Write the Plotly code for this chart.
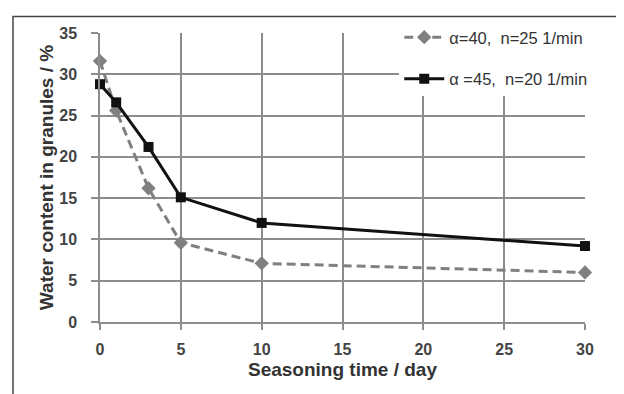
import plotly.graph_objects as go

days = [0, 1, 3, 5, 10, 30]
series1_name = "α=40,\u00a0\u00a0n=25\u00a01/min"
series1 = [31.6, 25.6, 16.2, 9.6, 7.1, 6.0]
series2_name = "α\u00a0=45,\u00a0\u00a0n=20\u00a01/min"
series2 = [28.8, 26.6, 21.2, 15.1, 12.0, 9.2]
x_ticks = [0, 5, 10, 15, 20, 25, 30]
y_ticks = [0, 5, 10, 15, 20, 25, 30, 35]

grid_col = "#8c8c8c"
fig = go.Figure()
fig.add_trace(go.Scatter(
    x=days, y=series1, name=series1_name, mode="lines+markers",
    line=dict(color="#808080", width=3, dash="9px,5px"),
    marker=dict(symbol="diamond", size=11, color="#808080"),
    legendgroup="a", cliponaxis=False))
fig.add_trace(go.Scatter(
    x=days, y=series2, name=series2_name, mode="lines+markers",
    line=dict(color="#111111", width=3),
    marker=dict(symbol="square", size=10, color="#111111"),
    legendgroup="b", cliponaxis=False))

fig.update_layout(
    width=624, height=394,
    margin=dict(l=92, r=47, t=16, b=80),
    paper_bgcolor="white", plot_bgcolor="white",
    font=dict(family="Liberation Sans, Arial, sans-serif", color="#333333"),
    showlegend=True,
    legend=dict(x=0.617, y=1.045, xanchor="left", yanchor="top",
                bgcolor="white", font=dict(size=16.5, color="#333333"),
                tracegroupgap=17, itemwidth=40),
    shapes=[dict(type="rect", xref="paper", yref="paper",
                 x0=(13 - 100) / 485, x1=1.3, y0=(322 - 7) / 298, y1=-0.5,
                 line=dict(color="#444444", width=1.5), layer="above")],
)
fig.update_xaxes(
    range=[0, 30], tickvals=x_ticks, showgrid=True, gridcolor=grid_col, gridwidth=1.5,
    zeroline=False, showline=True, linecolor=grid_col, linewidth=1.5,
    ticks="outside", ticklen=6, tickcolor=grid_col, tickwidth=1.5,
    tickfont=dict(size=16, color="#444444", family="Liberation Sans, Arial", weight="bold"),
    ticklabelstandoff=6,
    title=dict(text="<b>Seasoning time / day</b>", font=dict(size=19, color="#333333"), standoff=6),
)
fig.update_yaxes(
    range=[0, 35], tickvals=y_ticks, showgrid=True, gridcolor=grid_col, gridwidth=1.5,
    zeroline=False, showline=True, linecolor=grid_col, linewidth=1.5,
    ticks="outside", ticklen=7, tickcolor=grid_col, tickwidth=1.5,
    tickfont=dict(size=16, color="#444444", family="Liberation Sans, Arial", weight="bold"),
    ticklabelstandoff=11,
    title=dict(text="<b>Water content in granules / %</b>", font=dict(size=19, color="#333333"), standoff=1),
)
fig.write_html("out.html")
